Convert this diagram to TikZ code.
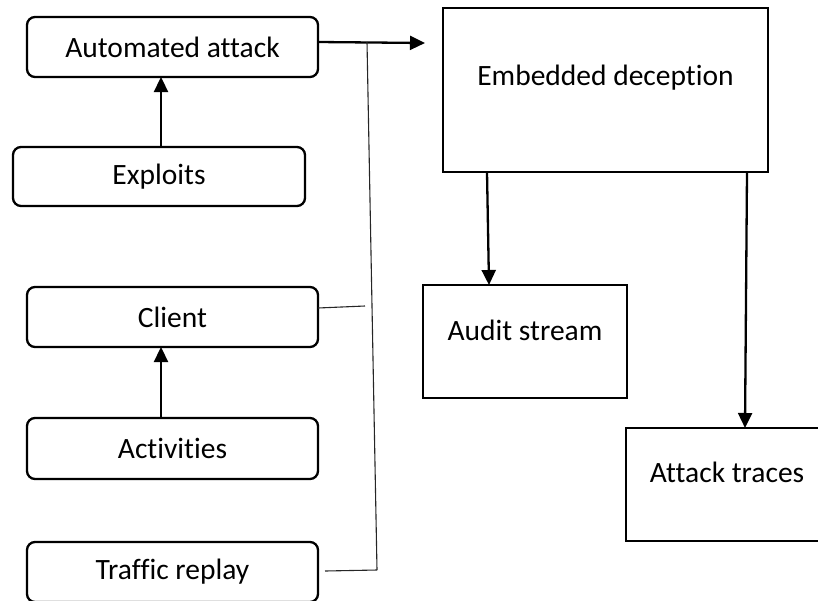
\documentclass[tikz,border=0pt]{standalone}
\usepackage{fontspec}
\setmainfont{Carlito}[Ligatures={NoCommon}]
\usetikzlibrary{arrows.meta}
\begin{document}
\begin{tikzpicture}[x=1pt,y=-1pt,
  every node/.style={inner sep=0pt, outer sep=0pt},
  lbl/.style={font=\fontsize{29.5}{33}\selectfont},
  rbox/.style={draw, line width=2.3pt, rounded corners=8pt, minimum width=291pt, minimum height=60pt, font=\fontsize{29.5}{33}\selectfont},
  sqbox/.style={draw, line width=2.3pt},
  flow/.style={line width=2.3pt, -{Triangle[length=15pt,width=14pt]}},
  bus/.style={line width=1.1pt, black!85}]
\useasboundingbox (0,0) rectangle (818,600);

% left column: sources
\node[rbox] (auto) at (172.5,47) {Automated attack};
\node[rbox, minimum width=292pt, minimum height=59pt] (expl) at (159,176.5) {Exploits};
\node[rbox] (client) at (172.5,317) {Client};
\node[rbox, minimum height=61pt] (activ) at (172.5,448.5) {Activities};
\node[rbox] (traffic) at (172.5,572) {Traffic replay};

% right side: deception and outputs
\node[sqbox, minimum width=325pt, minimum height=164pt] (emb) at (605.5,90) {};
\node[lbl] (embt) at ([yshift=12pt]emb.center) {Embedded deception};
\node[sqbox, minimum width=204pt, minimum height=113pt] (audit) at (525,341.5) {};
\node[lbl] (auditt) at ([yshift=11.5pt]audit.center) {Audit stream};
\node[sqbox, minimum width=202pt, minimum height=113pt] (traces) at (727,484.5) {};
\node[lbl] (tracest) at ([yshift=12pt]traces.center) {Attack traces};

% helper points
\coordinate (tip) at (425,43);
\coordinate (bustop) at (367,42);
\coordinate (busbot) at (377,570);
\coordinate (cend) at (365,306);

% vertical feeds
\draw[flow] (expl.north -| 161,0) -- (auto.south -| 161,0);
\draw[flow] (activ.north -| 161,0) -- (client.south -| 161,0);

% main arrow towards the deception box
\draw[flow] (auto.east |- 0,42) -- (tip);

% thin collector line
\draw[bus] (bustop) -- (busbot);
\draw[bus] (client.east |- 0,308) -- (cend);
\draw[bus] ([xshift=7pt]traffic.east |- 0,571) -- (busbot);

% outputs
\draw[flow] (emb.south -| 487,0) -- (audit.north -| 489,0);
\draw[flow] (emb.south -| 747,0) -- (traces.north -| 745,0);
\end{tikzpicture}
\end{document}
